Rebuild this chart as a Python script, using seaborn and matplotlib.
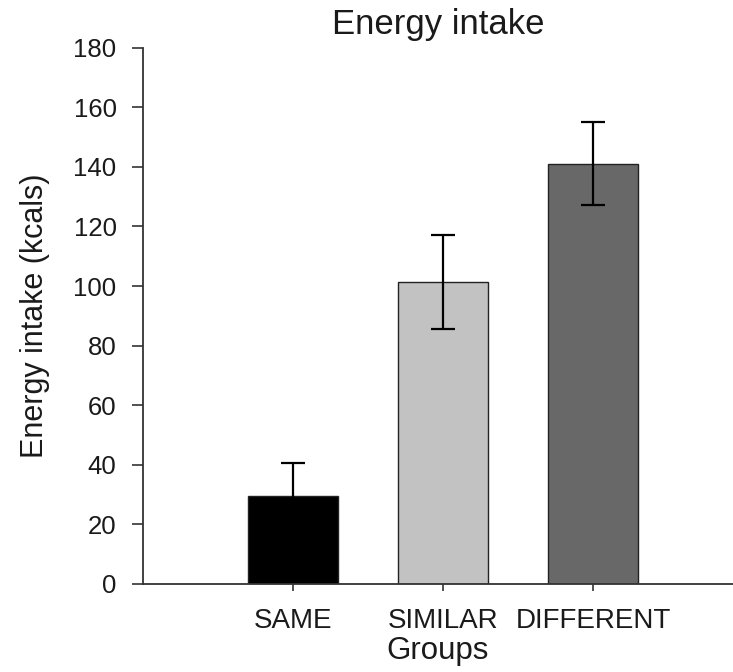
import matplotlib
matplotlib.use("Agg")
import matplotlib.pyplot as plt
import seaborn as sns
import pandas as pd

groups = ["SAME", "SIMILAR", "DIFFERENT"]
intake = [29.5, 101.5, 141.0]
sem = [11.0, 15.8, 13.9]
bar_colors = ["#000000", "#c2c2c2", "#686868"]
y_ticks = [0, 20, 40, 60, 80, 100, 120, 140, 160, 180]

sns.set_theme(style="ticks")
plt.rcParams["font.family"] = ["Liberation Sans", "DejaVu Sans"]

df = pd.DataFrame({"group": groups, "kcal": intake})

fig = plt.figure(figsize=(7.33, 6.72), dpi=100)
ax = fig.add_axes([0.195, 0.131, 0.805, 0.798])

sns.barplot(data=df, x="group", y="kcal", hue="group", palette=bar_colors,
            order=groups, hue_order=groups, width=0.6, errorbar=None,
            edgecolor="#222222", linewidth=1.0, legend=False, ax=ax)
ax.errorbar(range(len(groups)), intake, yerr=sem, fmt="none",
            ecolor="black", elinewidth=1.6, capsize=8.5, capthick=1.6, zorder=5)

ax.set_xlim(-1.0, 2.93)
ax.set_ylim(0, 180)
ax.set_yticks(y_ticks)
ax.tick_params(axis="y", labelsize=18.5, length=8, width=1.2, color="#333333",
               labelcolor="#1a1a1a", pad=11)
ax.tick_params(axis="x", labelsize=20, length=5, width=1.2, color="#333333",
               labelcolor="#1a1a1a", pad=12)
for side in ["top", "right"]:
    ax.spines[side].set_visible(False)
for side in ["left", "bottom"]:
    ax.spines[side].set_linewidth(1.3)
    ax.spines[side].set_color("#333333")

ax.set_title("Energy intake", fontsize=25, color="#1a1a1a", pad=10)
ax.set_xlabel("Groups", fontsize=22.5, color="#1a1a1a", labelpad=2)
ax.set_ylabel("Energy intake (kcals)", fontsize=22, color="#1a1a1a", labelpad=17)

fig.savefig("out.png", dpi=100, facecolor="white")
